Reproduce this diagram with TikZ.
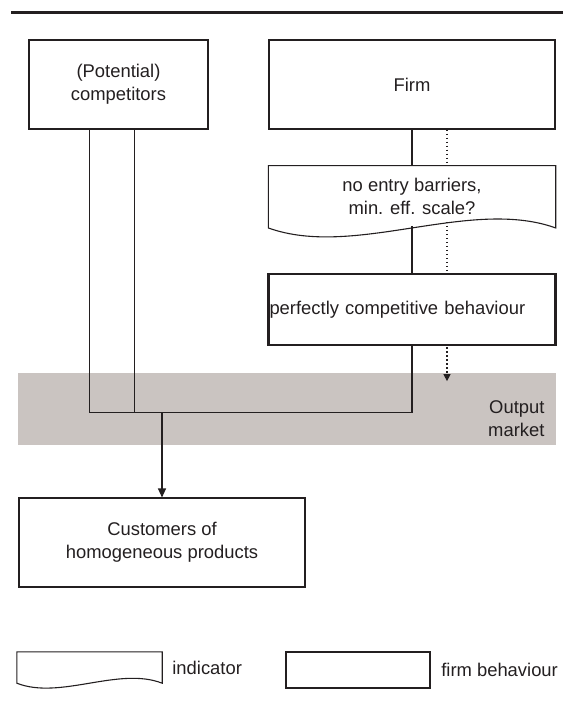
\documentclass[tikz,border=0pt]{standalone}
\usepackage{fontspec}
\setmainfont{Liberation Sans}
\usepackage{tikz}
\usetikzlibrary{positioning,arrows.meta,calc}
\definecolor{inkline}{RGB}{35,31,32}
\definecolor{marketgray}{RGB}{202,196,193}
\tikzset{
  every node/.append style={font=\fontsize{18.4pt}{23pt}\selectfont,text=inkline},
  plainbox/.style={rectangle,draw=inkline,line width=1.1pt,align=center,minimum width=286pt,minimum height=89pt,inner sep=0pt},
  wavebox/.style={rectangle,align=center,minimum width=287pt,minimum height=62pt,inner sep=0pt},
  actbox/.style={rectangle,draw=inkline,line width=2.2pt,align=left,minimum width=287pt,minimum height=71pt,inner sep=1pt},
  keytext/.style={inner sep=0pt},
  link/.style={draw=inkline,line width=1.1pt},
  hint/.style={draw=inkline,line width=1.1pt,dash pattern=on 1.5pt off 2.5pt},
  edge/.style={link,-{Triangle[length=9pt,width=8pt]}}
}
% outline with a wavy bottom edge, drawn round a node: #1 node, #2 depth of the wave
\newcommand{\waveoutline}[2]{%
  \draw[link] (#1.south east)
    .. controls ($(#1.south west)!0.7!(#1.south east)+(0,#2)$) and ($(#1.south west)!0.3!(#1.south east)+(0,-#2)$) .. (#1.south west)
    -- (#1.north west) -- (#1.north east) -- cycle;}

\begin{document}
\begin{tikzpicture}[x=1pt,y=1pt,node distance=10pt]
  \useasboundingbox (0,0) rectangle (563,-715);
  \draw[inkline,line width=3pt] (11,-12) -- (563,-12);

  % output market band
  \fill[marketgray] (18,-373) rectangle (556,-445);
  \node[anchor=east,align=right] (marketlabel) at (548,-418.5) {Output\\market};

  \node[plainbox,minimum width=179pt] (rivals) at (118.5,-84.5) {(Potential)\\competitors};
  \node[plainbox] (firm) at (412,-84.5) {Firm};
  \node[wavebox,below=36pt of firm] (barriers) {no entry barriers,\\min. eff. scale?};
  \waveoutline{barriers}{31}
  \node[actbox,text width=285pt,below=45pt of barriers] (conduct) {perfectly competitive behaviour};
  \node[plainbox] (buyers) at (162,-542.5) {Customers of\\homogeneous products};

  \coordinate (merge) at ($(conduct.south)+(0,-66)$);
  \coordinate (entry) at ($(conduct.south)+(35,-35)$);

  \draw[link] (firm.south) -- (barriers.north);
  \draw[link] ([yshift=2pt]barriers.south) -- (conduct.north);
  \draw[link] ([xshift=61pt]rivals.south west) |- (merge) -- (conduct.south);
  \draw[link] ([xshift=106pt]rivals.south west) |- (merge);
  \draw[edge] (buyers.north |- merge) -- (buyers.north);

  % firm's own path into the market
  \draw[hint] ([xshift=35pt]firm.south) -- ([xshift=35pt]barriers.north);
  \draw[hint] ([xshift=35pt,yshift=6pt]barriers.south) -- ([xshift=35pt]conduct.north);
  \draw[hint,-{Triangle[length=7pt,width=7pt]}] ([xshift=35pt,yshift=-1pt]conduct.south) -- (entry);

  % key
  \node[wavebox,minimum width=145pt,minimum height=31pt] (keywave) at (89.5,-667.5) {};
  \waveoutline{keywave}{17}
  \node[keytext,right=10pt of keywave] (keywavetext) {indicator};
  \node[actbox,minimum width=144pt,minimum height=36pt] (keyact) at (358,-670) {};
  \node[keytext,right=10pt of keyact] (keyacttext) {firm behaviour};
\end{tikzpicture}
\end{document}
